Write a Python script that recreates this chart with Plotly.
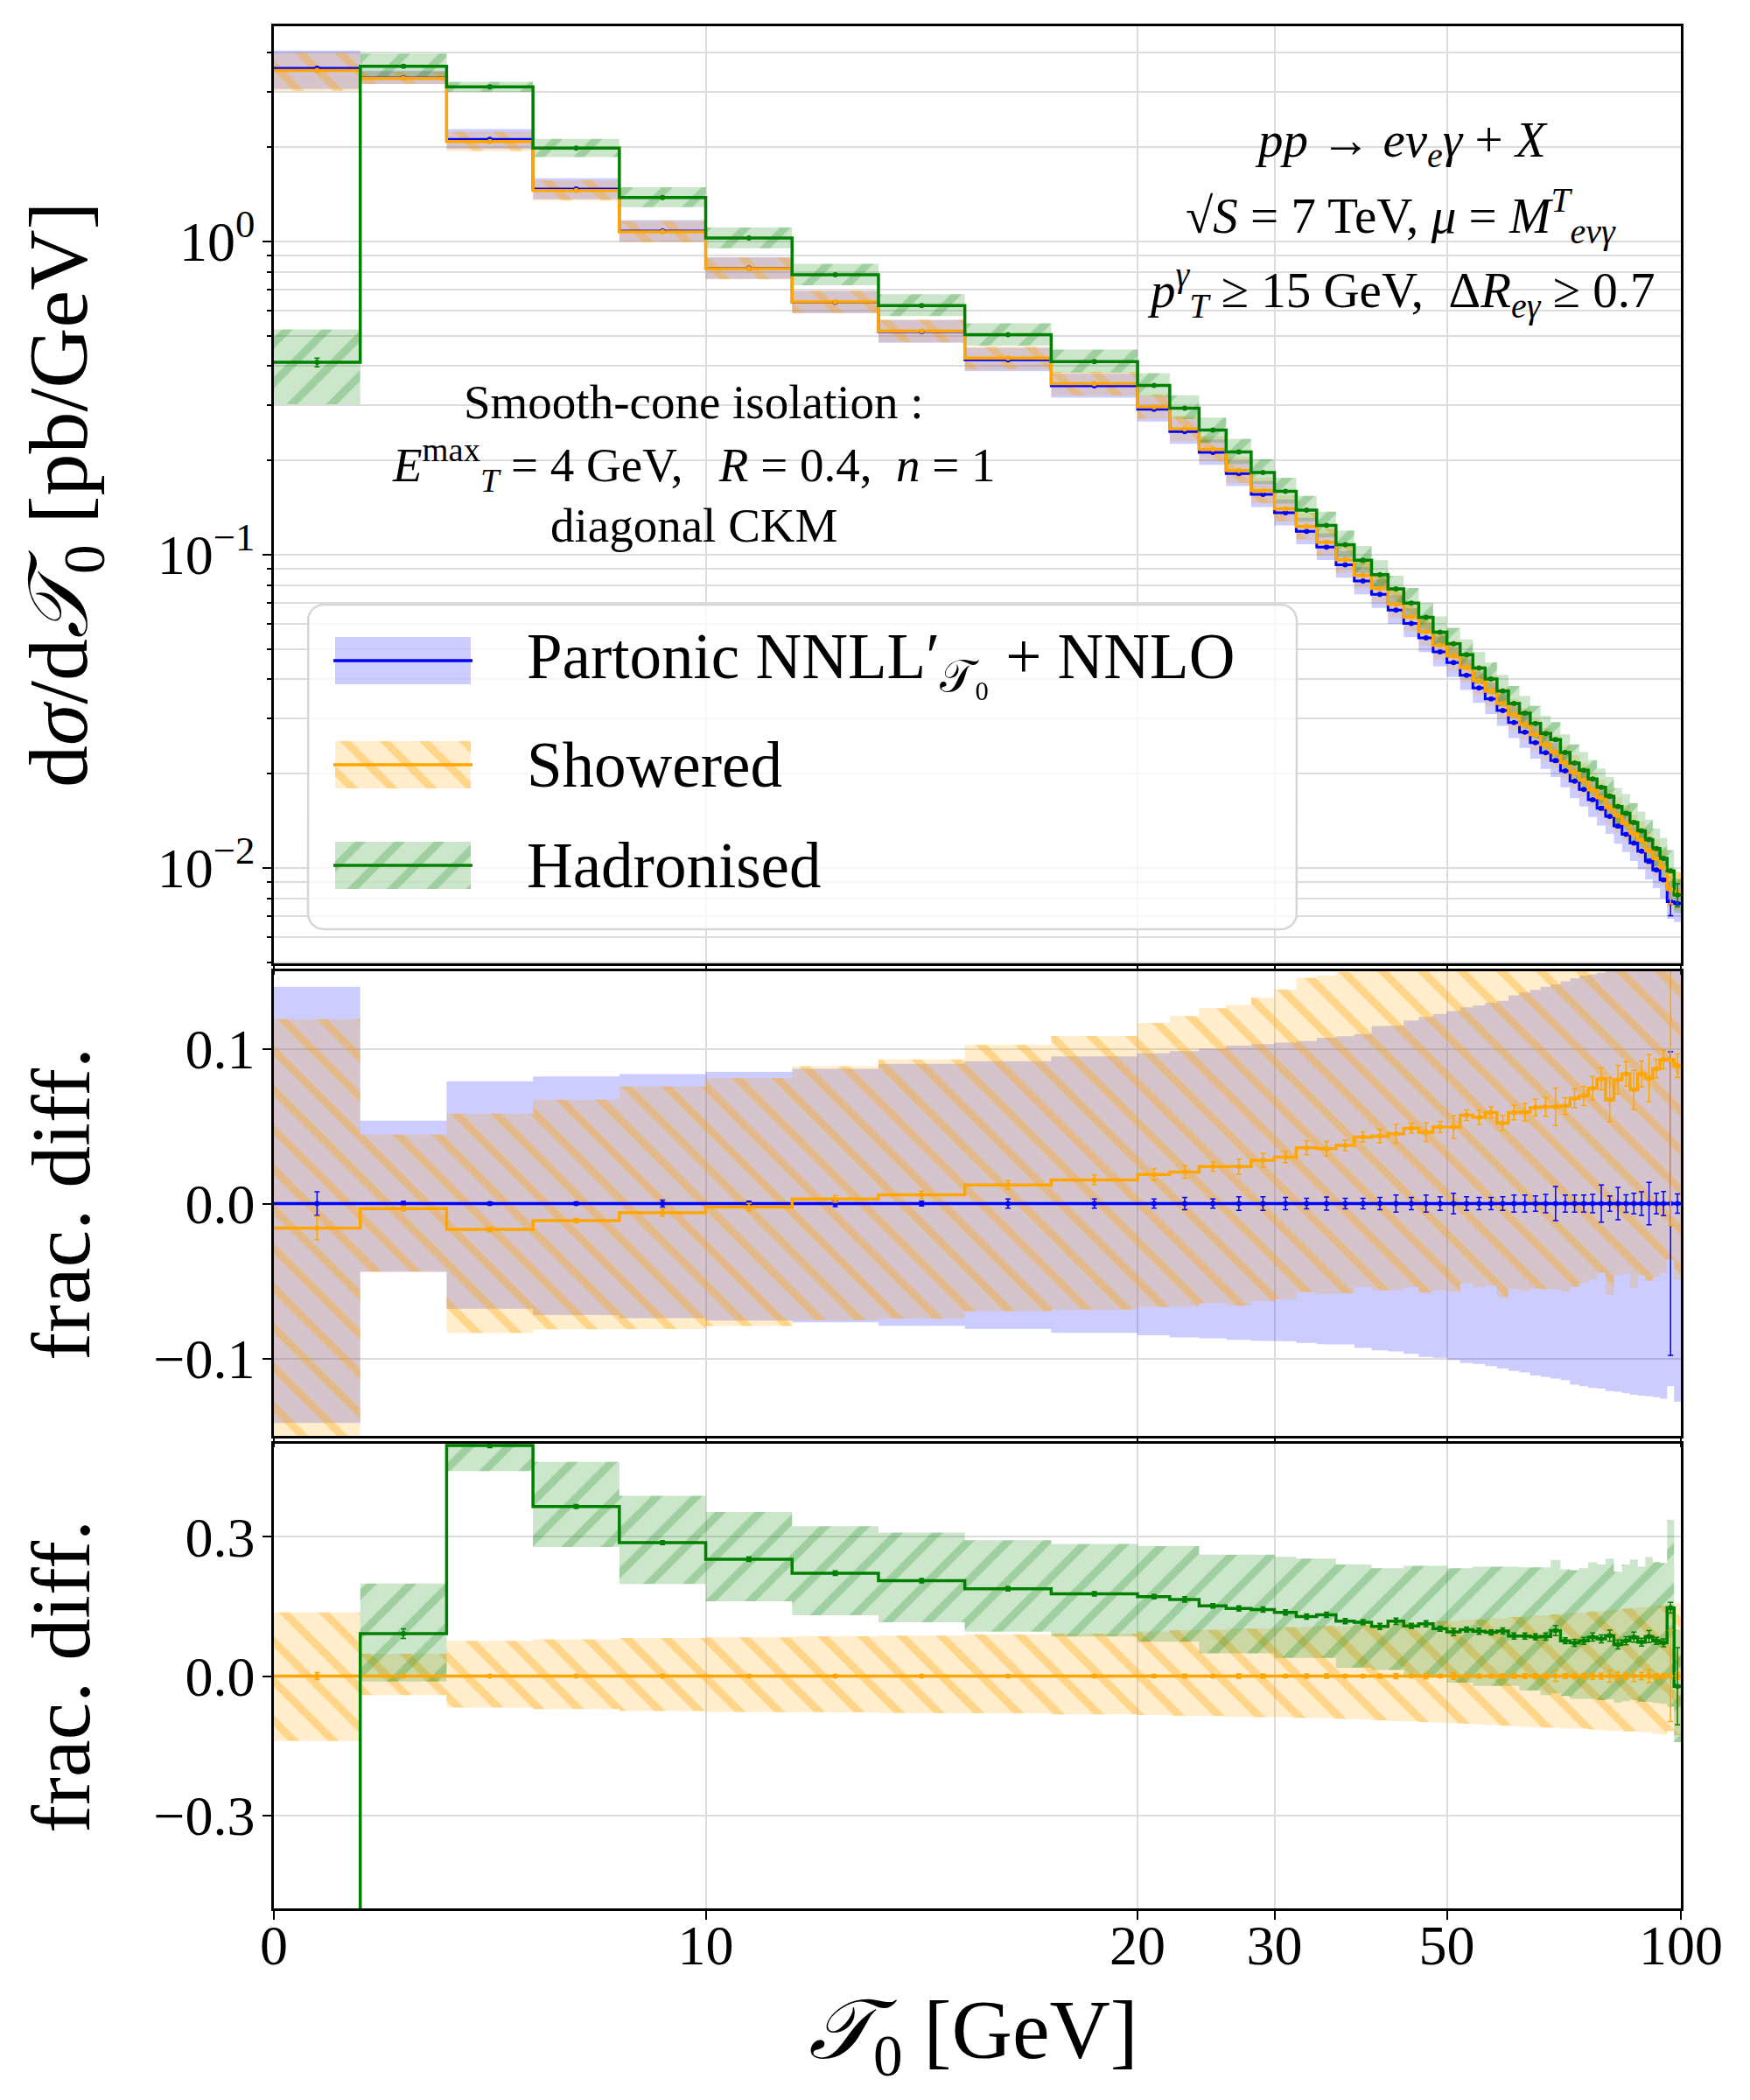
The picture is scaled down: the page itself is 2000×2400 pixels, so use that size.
import numpy as np
import plotly.graph_objects as go

# T0 histogram bins [GeV] and axis ticks
bin_edges = list(range(0, 101, 2))
x_tick_values = [0, 10, 20, 30, 50, 100]
x_tick_labels = ["0", "10", "20", "30", "50", "100"]

# Partonic NNLL'+NNLO central values [pb/GeV]
partonic = [3.57, 3.33, 2.118, 1.47, 1.08, 0.821, 0.639, 0.515, 0.419, 0.346,
            0.291, 0.247, 0.212, 0.1814, 0.1557, 0.1360, 0.1187, 0.1057, 0.0928, 0.0824,
            0.0747, 0.0665, 0.0603, 0.0542, 0.0489, 0.0452, 0.0412, 0.0375, 0.0346, 0.0318,
            0.0291, 0.0271, 0.0251, 0.0233, 0.0220, 0.0204, 0.0189, 0.0178, 0.0165, 0.0155,
            0.0146, 0.0136, 0.0128, 0.0120, 0.0113, 0.0105, 0.00985, 0.00916, 0.0078, 0.0077]
# scale band of the partonic result, relative to its central value
partonic_lo = [-0.1417, -0.044, -0.068, -0.072, -0.074, -0.0755, -0.0767, -0.079, -0.081, -0.0835,
               -0.085, -0.0864, -0.087, -0.088, -0.0886, -0.089, -0.090, -0.0908, -0.091, -0.0932,
               -0.0948, -0.0955, -0.097, -0.099, -0.0996, -0.101, -0.103, -0.1035, -0.105, -0.1065,
               -0.108, -0.109, -0.111, -0.112, -0.113, -0.114, -0.117, -0.118, -0.119, -0.1195,
               -0.121, -0.1215, -0.1225, -0.1235, -0.124, -0.1245, -0.125, -0.126, -0.118, -0.128]
partonic_hi = [0.140, 0.0536, 0.079, 0.082, 0.0836, 0.085, 0.087, 0.0902, 0.092, 0.095,
               0.097, 0.0985, 0.100, 0.102, 0.103, 0.104, 0.105, 0.107, 0.108, 0.1095,
               0.1146, 0.115, 0.1182, 0.1205, 0.1225, 0.1243, 0.1267, 0.128, 0.1296, 0.131,
               0.1345, 0.1365, 0.138, 0.140, 0.1415, 0.1435, 0.1455, 0.147, 0.148, 0.149,
               0.151, 0.152, 0.154, 0.155, 0.157, 0.158, 0.160, 0.161, 0.163, 0.165]
partonic_err = [0.0076, 0.0014, 0.0010, 0.0010, 0.0022, 0.0016, 0.0020, 0.0016, 0.0030, 0.0030,
                0.0030, 0.0040, 0.0030, 0.0044, 0.0044, 0.0039, 0.0034, 0.0042, 0.0034, 0.0034,
                0.0040, 0.0055, 0.0040, 0.0055, 0.0044, 0.0066, 0.0044, 0.0040, 0.0040, 0.0044,
                0.0055, 0.0055, 0.0050, 0.0060, 0.0110, 0.0055, 0.0055, 0.0055, 0.0060, 0.0120,
                0.0050, 0.0105, 0.0057, 0.0066, 0.0076, 0.0137, 0.0066, 0.0077, 0.0980, 0.0062]

# Showered / Partonic - 1
showered_ratio = [-0.0158, -0.0032, -0.0167, -0.011, -0.006, -0.0022, 0.003, 0.0056, 0.012, 0.0153,
                  0.0188, 0.0204, 0.0238, 0.0238, 0.028, 0.030, 0.036, 0.0355, 0.0375, 0.043,
                  0.0435, 0.045, 0.0486, 0.046, 0.0494, 0.0494, 0.057, 0.0557, 0.0588, 0.052,
                  0.0588, 0.059, 0.062, 0.0625, 0.0625, 0.063, 0.068, 0.0695, 0.0745, 0.0805,
                  0.067, 0.080, 0.0837, 0.0734, 0.0837, 0.081, 0.087, 0.093, 0.093, 0.089]
# showered band, relative to the showered central value
showered_lo = [-0.140, -0.041, -0.068, -0.071, -0.0755, -0.077, -0.078, -0.0795, -0.0805, -0.0825,
               -0.084, -0.085, -0.086, -0.0877, -0.0885, -0.089, -0.090, -0.0908, -0.092, -0.093,
               -0.0953, -0.0967, -0.0978, -0.099, -0.1004, -0.1015, -0.1025, -0.104, -0.1055, -0.107,
               -0.1075, -0.109, -0.110, -0.111, -0.111, -0.113, -0.114, -0.113, -0.115, -0.116,
               -0.118, -0.117, -0.119, -0.119, -0.120, -0.121, -0.124, -0.126, -0.118, -0.127]
showered_hi = [0.137, 0.048, 0.076, 0.079, 0.082, 0.0835, 0.0855, 0.087, 0.0894, 0.0915,
               0.096, 0.0986, 0.100, 0.102, 0.102, 0.105, 0.106, 0.108, 0.108, 0.110,
               0.112, 0.113, 0.115, 0.116, 0.118, 0.119, 0.121, 0.122, 0.124, 0.125,
               0.127, 0.128, 0.130, 0.131, 0.133, 0.134, 0.136, 0.137, 0.139, 0.140,
               0.142, 0.143, 0.145, 0.146, 0.148, 0.149, 0.151, 0.152, 0.155, 0.157]
showered_err = [0.0076, 0.0016, 0.0015, 0.0014, 0.0024, 0.0024, 0.0022, 0.0025, 0.0027, 0.0030,
                0.0035, 0.0040, 0.0030, 0.0048, 0.0043, 0.0035, 0.0043, 0.0045, 0.0032, 0.0032,
                0.0040, 0.0058, 0.0030, 0.0058, 0.0034, 0.0069, 0.0032, 0.0043, 0.0033, 0.0045,
                0.0045, 0.0054, 0.0050, 0.0058, 0.0114, 0.0050, 0.0058, 0.0058, 0.0070, 0.0065,
                0.0133, 0.0086, 0.0073, 0.0118, 0.0078, 0.0140, 0.0055, 0.0055, 0.0980, 0.0070]

# Hadronised / Showered - 1
hadronised_ratio = [-0.883, 0.0915, 0.496, 0.365, 0.287, 0.2516, 0.2214, 0.2053, 0.1878, 0.177,
                    0.171, 0.165, 0.151, 0.1455, 0.143, 0.137, 0.128, 0.132, 0.118, 0.116,
                    0.107, 0.118, 0.108, 0.1125, 0.102, 0.095, 0.100, 0.0965, 0.094, 0.097,
                    0.086, 0.086, 0.0845, 0.085, 0.098, 0.076, 0.0715, 0.076, 0.084, 0.080,
                    0.087, 0.068, 0.076, 0.084, 0.073, 0.085, 0.076, 0.0715, 0.147, -0.022]
# hadronised band edges, relative to the showered central value
hadronised_lo = [-0.914, -0.012, 0.441, 0.278, 0.198, 0.161, 0.131, 0.1157, 0.0957, 0.085,
                 0.074, 0.074, 0.049, 0.049, 0.049, 0.039, 0.039, 0.039, 0.018, 0.018,
                 0.013, 0.013, -0.003, -0.003, -0.003, -0.014, -0.014, -0.021, -0.021, -0.021,
                 -0.021, -0.031, -0.031, -0.041, -0.037, -0.043, -0.049, -0.050, -0.049, -0.052,
                 -0.050, -0.057, -0.054, -0.052, -0.055, -0.056, -0.058, -0.060, -0.066, -0.142]
hadronised_hi = [-0.851, 0.199, 0.553, 0.461, 0.388, 0.353, 0.3225, 0.309, 0.2923, 0.2846,
                 0.2797, 0.2797, 0.2614, 0.2614, 0.2614, 0.2565, 0.253, 0.253, 0.240, 0.240,
                 0.232, 0.232, 0.2375, 0.2375, 0.2375, 0.232, 0.232, 0.2355, 0.2355, 0.2355,
                 0.2355, 0.234, 0.234, 0.234, 0.250, 0.2296, 0.2277, 0.232, 0.2448, 0.240,
                 0.253, 0.2245, 0.240, 0.251, 0.236, 0.256, 0.2455, 0.2435, 0.336, 0.100]
hadronised_err = [0.032, 0.0095, 0.003, 0.003, 0.003, 0.004, 0.004, 0.004, 0.004, 0.004,
                  0.004, 0.005, 0.004, 0.005, 0.005, 0.005, 0.005, 0.005, 0.005, 0.005,
                  0.006, 0.006, 0.005, 0.006, 0.005, 0.007, 0.005, 0.006, 0.005, 0.006,
                  0.006, 0.006, 0.006, 0.007, 0.010, 0.006, 0.007, 0.007, 0.008, 0.008,
                  0.011, 0.009, 0.008, 0.010, 0.008, 0.012, 0.007, 0.008, 0.010, 0.085]

FONT = "Liberation Serif"
BLUE, ORANGE, GREEN = "#0000ff", "#ffa500", "#008000"
GRID = "#dcdcdc"

# page is 2000x2400; the html body adds an 8px margin round the figure
OFF = 8
W, H = 2000 - 2 * OFF, 2400 - 2 * OFF

BLUE_FILL = "rgba(0,0,255,0.2)"
ORANGE_PAT = dict(shape="\\", fgcolor=ORANGE, fgopacity=0.32, bgcolor="rgba(255,165,0,0.2)",
                  size=32, solidity=0.28, fillmode="replace")
GREEN_PAT = dict(shape="/", fgcolor=GREEN, fgopacity=0.22, bgcolor="rgba(0,128,0,0.2)",
                 size=32, solidity=0.28, fillmode="replace")

# matplotlib-style symlog x scale: linear below 20 GeV, log above (linscale=1)
LIN_THRESH = 20.0
LIN_SCALE = 1.0 / (1.0 - 0.1)


def symlog(x):
    x = np.asarray(x, dtype=float)
    return np.where(x <= LIN_THRESH, x / LIN_THRESH * LIN_SCALE,
                    LIN_SCALE + np.log10(np.maximum(x, LIN_THRESH) / LIN_THRESH))


edges = np.array(bin_edges, dtype=float)
xe = symlog(edges)
xc = symlog(0.5 * (edges[:-1] + edges[1:]))

P = np.array(partonic)
S = P * (1 + np.array(showered_ratio))
Hd = S * (1 + np.array(hadronised_ratio))
s_lo, s_hi = np.array(showered_lo), np.array(showered_hi)
h_lo, h_hi = np.array(hadronised_lo), np.array(hadronised_hi)
p_lo, p_hi = np.array(partonic_lo), np.array(partonic_hi)

fig = go.Figure()


def band(lo, hi, ax, fill=None, pattern=None):
    xs, ys = [], []
    for i in range(len(hi)):
        xs += [xe[i], xe[i + 1]]
        ys += [hi[i], hi[i]]
    for i in reversed(range(len(lo))):
        xs += [xe[i + 1], xe[i]]
        ys += [lo[i], lo[i]]
    kw = dict(x=xs, y=ys, mode="lines", fill="toself", line=dict(width=0),
              hoverinfo="skip", showlegend=False, xaxis=ax[0], yaxis=ax[1])
    if pattern:
        kw["fillcolor"] = pattern["bgcolor"]
        kw["fillpattern"] = pattern
    else:
        kw["fillcolor"] = fill
    fig.add_trace(go.Scatter(**kw))


def step(vals, ax, color, width=3.5):
    fig.add_trace(go.Scatter(x=xe, y=np.append(vals, vals[-1]), mode="lines",
                             line=dict(color=color, width=width, shape="hv"),
                             hoverinfo="skip", showlegend=False, xaxis=ax[0], yaxis=ax[1]))


def errbars(vals, err, ax, color):
    fig.add_trace(go.Scatter(x=xc, y=vals, mode="markers", marker=dict(size=0, color=color),
                             error_y=dict(type="data", array=err, color=color, thickness=1.5, width=3),
                             hoverinfo="skip", showlegend=False, xaxis=ax[0], yaxis=ax[1]))


top, mid, bot = ("x", "y"), ("x2", "y2"), ("x3", "y3")

# top panel: absolute distributions
band(P * (1 + p_lo), P * (1 + p_hi), top, fill=BLUE_FILL)
band(S * (1 + s_lo), S * (1 + s_hi), top, pattern=ORANGE_PAT)
band(S * (1 + h_lo), S * (1 + h_hi), top, pattern=GREEN_PAT)
step(P, top, BLUE, 3)
step(S, top, ORANGE)
step(Hd, top, GREEN)
errbars(P, P * np.array(partonic_err), top, BLUE)
errbars(S, S * np.array(showered_err), top, ORANGE)
errbars(Hd, Hd * np.array(hadronised_err), top, GREEN)

# middle panel: relative to partonic
rs = S / P - 1
band(p_lo, p_hi, mid, fill=BLUE_FILL)
band((1 + rs) * (1 + s_lo) - 1, (1 + rs) * (1 + s_hi) - 1, mid, pattern=ORANGE_PAT)
step(P / P - 1, mid, BLUE)
step(rs, mid, ORANGE)
errbars(P / P - 1, partonic_err, mid, BLUE)
errbars(rs, np.array(showered_err) * (1 + rs), mid, ORANGE)

# bottom panel: relative to showered
rh = Hd / S - 1
band(s_lo, s_hi, bot, pattern=ORANGE_PAT)
band(h_lo, h_hi, bot, pattern=GREEN_PAT)
step(S / S - 1, bot, ORANGE)
step(rh, bot, GREEN)
errbars(S / S - 1, showered_err, bot, ORANGE)
errbars(rh, np.array(hadronised_err) * (1 + rh), bot, GREEN)

# legend drawn on a full-page overlay axis in page pixels
box = (352, 691, 1482, 1062)
r = 18
fx, fy = [], []
for cx, cy, a0 in [(box[2] - r, box[1] + r, -90), (box[2] - r, box[3] - r, 0),
                   (box[0] + r, box[3] - r, 90), (box[0] + r, box[1] + r, 180)]:
    a = np.radians(np.linspace(a0, a0 + 90, 10))
    fx += list(cx + r * np.cos(a))
    fy += list(cy + r * np.sin(a))
fig.add_trace(go.Scatter(x=fx + fx[:1], y=fy + fy[:1], mode="lines", fill="toself",
                         fillcolor="rgba(255,255,255,0.8)", line=dict(color="#d6d6d6", width=2.5),
                         hoverinfo="skip", showlegend=False, xaxis="x4", yaxis="y4"))

legend_rows = [
    (755, BLUE, None, "Partonic NNLL\u2032<sub>\U0001D4AF\u2080</sub> + NNLO"),
    (874, ORANGE, ORANGE_PAT, "Showered"),
    (989, GREEN, GREEN_PAT, "Hadronised"),
]
for yc, col, pat, label in legend_rows:
    kw = dict(x=[383, 538, 538, 383, 383], y=[yc - 27, yc - 27, yc + 27, yc + 27, yc - 27],
              mode="lines", fill="toself", line=dict(width=0), hoverinfo="skip",
              showlegend=False, xaxis="x4", yaxis="y4")
    if pat:
        kw["fillcolor"] = pat["bgcolor"]
        kw["fillpattern"] = pat
    else:
        kw["fillcolor"] = BLUE_FILL
    fig.add_trace(go.Scatter(**kw))
    fig.add_trace(go.Scatter(x=[381, 540], y=[yc, yc], mode="lines", line=dict(color=col, width=3.5),
                             hoverinfo="skip", showlegend=False, xaxis="x4", yaxis="y4"))

# axes (panel positions given in page pixels)
x_dom = [(313 - OFF) / W, (1921 - OFF) / W]
panels = {"": (30, 1101), "2": (1110, 1641), "3": (1650, 2181)}


def ydom(p):
    return [1 - (panels[p][1] - OFF) / H, 1 - (panels[p][0] - OFF) / H]


xcommon = dict(domain=x_dom, range=[0, float(symlog(100))], tickmode="array",
               tickvals=list(symlog(x_tick_values)), ticktext=x_tick_labels,
               showgrid=True, gridcolor=GRID, gridwidth=2, zeroline=False,
               showline=True, mirror=True, linecolor="black", linewidth=2.5,
               ticks="outside", ticklen=10, tickwidth=2, tickcolor="black", automargin=False,
               tickfont=dict(family=FONT, size=64, color="black"))
ycommon = dict(showgrid=True, gridcolor=GRID, gridwidth=2, zeroline=False,
               showline=True, mirror=True, linecolor="black", linewidth=2.5,
               ticks="outside", ticklen=10, tickwidth=2, tickcolor="black", automargin=False,
               tickfont=dict(family=FONT, size=64, color="black"), ticklabelstandoff=-4)

minor_vals = [k * 10.0 ** e for e in (-3, -2, -1, 0) for k in range(2, 10)]

fig.update_layout(
    width=W, height=H, autosize=False,
    margin=dict(l=0, r=0, t=0, b=0, pad=0, autoexpand=False),
    paper_bgcolor="white", plot_bgcolor="rgba(0,0,0,0)", showlegend=False,
    font=dict(family=FONT, color="black"),
    xaxis=dict(xcommon, anchor="y", showticklabels=False),
    xaxis2=dict(xcommon, anchor="y2", showticklabels=False),
    xaxis3=dict(xcommon, anchor="y3", showticklabels=True, ticklabelstandoff=-26),
    yaxis=dict(ycommon, domain=ydom(""), anchor="x", type="log", range=[-2.305, 0.687],
               tickmode="array", tickvals=[0.01, 0.1, 1],
               ticktext=["10<sup>\u22122</sup>", "10<sup>\u22121</sup>", "10<sup>0</sup>"],
               minor=dict(tickmode="array", tickvals=minor_vals, showgrid=True, gridcolor=GRID,
                          gridwidth=2, ticks="outside", ticklen=5, tickwidth=1.5, tickcolor="black")),
    yaxis2=dict(ycommon, domain=ydom("2"), anchor="x2", range=[-0.15, 0.15], tickmode="array",
                tickvals=[-0.1, 0, 0.1], ticktext=["\u22120.1", "0.0", "0.1"]),
    yaxis3=dict(ycommon, domain=ydom("3"), anchor="x3", range=[-0.5, 0.5], tickmode="array",
                tickvals=[-0.3, 0, 0.3], ticktext=["\u22120.3", "0.0", "0.3"]),
    xaxis4=dict(domain=[0, 1], range=[OFF, OFF + W], visible=False, anchor="y4",
                fixedrange=True, automargin=False),
    yaxis4=dict(domain=[0, 1], range=[OFF + H, OFF], visible=False, anchor="x4",
                fixedrange=True, automargin=False),
)

# texts, positioned in page pixels
texts = [
    (73, 566, "d<i>\u03c3</i>/d<i>\U0001D4AF</i><sub>0</sub> [pb/GeV]", 96, -90),
    (69, 1376, "frac. diff.", 96, -90),
    (69, 1916, "frac. diff.", 96, -90),
    (1112, 2326, "<i>\U0001D4AF</i><sub>0</sub> [GeV]", 96, 0),
    (1601, 164, "<i>pp</i> \u2192 <i>e\u03bd<sub>e</sub>\u03b3</i> + <i>X</i>", 57, 0),
    (1601, 246, "\u221a<i>S</i> = 7 TeV, <i>\u03bc</i> = <i>M</i><sup><i>T</i></sup><sub><i>e\u03bd\u03b3</i></sub>", 57, 0),
    (1601, 331, "<i>p</i><sup><i>\u03b3</i></sup><sub><i>T</i></sub> \u2265 15 GeV,  \u0394<i>R</i><sub><i>e\u03b3</i></sub> \u2265 0.7", 57, 0),
    (793, 459, "Smooth-cone isolation :", 55, 0),
    (793, 531, "<i>E</i><sup>max</sup><sub><i>T</i></sub> = 4 GeV,   <i>R</i> = 0.4,  <i>n</i> = 1", 55, 0),
    (793, 600, "diagonal CKM", 55, 0),
]
for tx, ty, txt, size, ang in texts:
    fig.add_annotation(x=tx, y=ty, xref="x4", yref="y4", text=txt, showarrow=False,
                       textangle=ang, xanchor="center", yanchor="middle",
                       font=dict(family=FONT, size=size, color="black"))
for yc, col, pat, label in legend_rows:
    fig.add_annotation(x=600, y=yc, xref="x4", yref="y4", text=label, showarrow=False,
                       xanchor="left", yanchor="middle", font=dict(family=FONT, size=73, color="black"))

fig.write_html("out.html")
